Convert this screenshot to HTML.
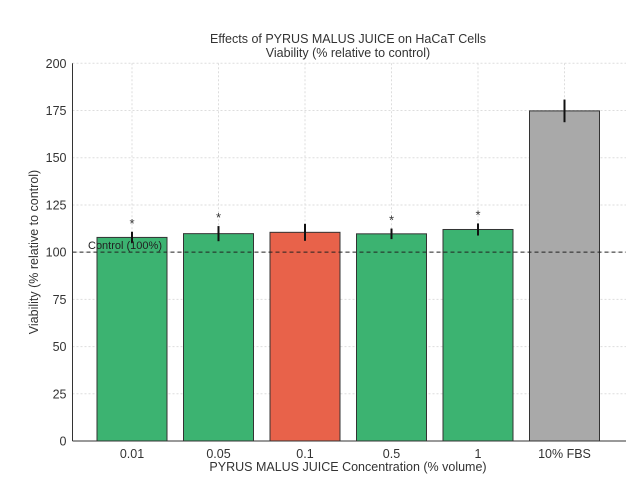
<!DOCTYPE html>
<html><head><meta charset="utf-8"><style>
body{margin:0;background:#fff;}
svg{display:block;font-family:"Liberation Sans","DejaVu Sans",sans-serif;}
</style></head><body>
<svg id="c" width="640" height="498" viewBox="0 0 640 498">
<text x="348" y="43" text-anchor="middle" font-size="12.5" fill="#333">Effects of PYRUS MALUS JUICE on HaCaT Cells</text>
<text x="348" y="57" text-anchor="middle" font-size="12.5" fill="#333">Viability (% relative to control)</text>
<text x="348" y="471" text-anchor="middle" font-size="12.5" fill="#333">PYRUS MALUS JUICE Concentration (% volume)</text>
<text transform="translate(38,252) rotate(-90)" text-anchor="middle" font-size="12.5" fill="#333">Viability (% relative to control)</text>
<g id="grid"></g><g id="bars"></g><g id="axes"></g>
</svg>
<script>
const categories=["0.01","0.05","0.1","0.5","1","10% FBS"];
const values=[107.8,109.8,110.5,109.7,112,174.8];
const errors=[3,4,4.5,2.8,3.2,6];
const colors=["#3cb371","#3cb371","#e8624a","#3cb371","#3cb371","#a9a9a9"];
const sig=[true,true,false,true,true,false];
const yTicks=[0,25,50,75,100,125,150,175,200];
const controlValue=100;
const NS="http://www.w3.org/2000/svg";
const x0=72.5,x1=626,yB=441,yT=63.3,firstC=132,step=86.5,bw=70;
const y=v=>yB-(v/200)*(yB-yT);
const xc=i=>firstC+i*step;
function mk(t,a,p){const e=document.createElementNS(NS,t);for(const k in a)e.setAttribute(k,a[k]);p.appendChild(e);return e;}
const G=document.getElementById('grid'),B=document.getElementById('bars'),A=document.getElementById('axes');
yTicks.forEach(t=>{
 const l=mk('line',{x1:x0,x2:x1,y1:y(t),y2:y(t),stroke:'#ddd','stroke-dasharray':'2,2','stroke-width':1},G);
 
 
 const tx=mk('text',{x:x0-6,y:y(t)+4.5,'text-anchor':'end','font-size':12.5,fill:'#333'},A);
 tx.textContent=t;
 
 
});
categories.forEach((c,i)=>{
 const l=mk('line',{x1:xc(i),x2:xc(i),y1:yT,y2:yB,stroke:'#ddd','stroke-dasharray':'2,2'},G);
 
 
 const r=mk('rect',{x:xc(i)-bw/2,y:y(values[i]),width:bw,height:yB-y(values[i]),fill:colors[i],stroke:'#333','stroke-width':1},B);
 
 
 const e=mk('line',{x1:xc(i),x2:xc(i),y1:y(values[i]+errors[i]),y2:y(values[i]-errors[i]),stroke:'#111','stroke-width':2},B);
 
 
 if(sig[i]){const s=mk('text',{x:xc(i),y:y(values[i]+errors[i])-4,'text-anchor':'middle','font-size':13,fill:'#333'},B);
  s.textContent='*';
  
  }
 const tx=mk('text',{x:xc(i),y:yB+17,'text-anchor':'middle','font-size':12.5,fill:'#333'},A);
 tx.textContent=c;
 
 
});
const cl=mk('line',{x1:x0,x2:x1,y1:y(controlValue),y2:y(controlValue),stroke:'#222','stroke-dasharray':'4,3','stroke-width':1},A);


const ct=mk('text',{x:88,y:y(controlValue)-3,'font-size':11,fill:'#222'},A);
ct.textContent='Control (100%)';


const ya=mk('line',{x1:x0,x2:x0,y1:yT,y2:yB,stroke:'#333'},A);


const xa=mk('line',{x1:x0,x2:x1,y1:yB,y2:yB,stroke:'#333'},A);


</script>
</body></html>
